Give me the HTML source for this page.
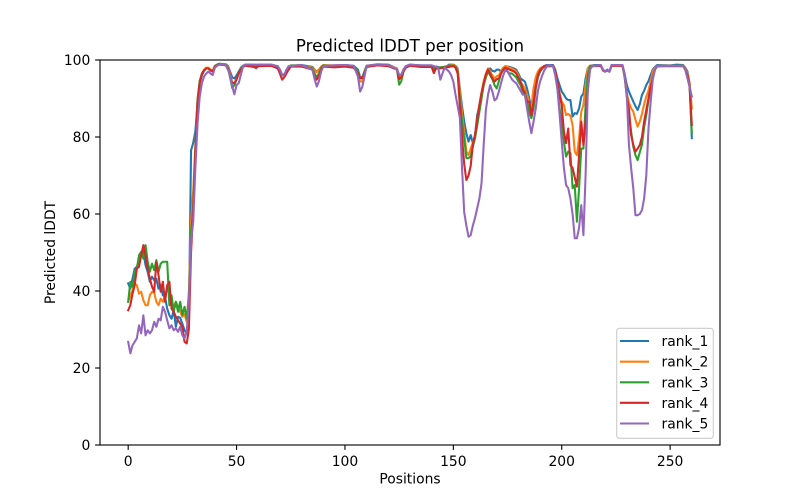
<!DOCTYPE html>
<html>
<head>
<meta charset="utf-8">
<style>
html,body{margin:0;padding:0;background:#fff;}
svg{display:block;}
text{font-family:"DejaVu Sans","Liberation Sans",sans-serif;fill:#000;}
.s{fill:none;stroke-width:2.08;stroke-linejoin:round;stroke-linecap:square;vector-effect:non-scaling-stroke;}
</style>
</head>
<body>
<svg width="800" height="500" viewBox="0 0 800 500" xmlns="http://www.w3.org/2000/svg">
<rect x="0" y="0" width="800" height="500" fill="#fff"/>
<defs><clipPath id="ax"><rect x="100" y="60" width="620" height="385"/></clipPath></defs>
<g clip-path="url(#ax)">
<g transform="matrix(2.1678,0,0,-3.85,128.18,445)">
<polyline class="s" stroke="#1f77b4" points="0,42 1,40.6 2,43.2 3,45.8 4,46.3 5,48 6,49.3 7,50.2 8,46.7 9,45 10,42.4 11,43.7 12,42.8 13,43.2 14,40.6 15,41.5 16,38.9 17,38.5 18,35.4 19,33.7 20,32.8 21,35 22,30.7 23,33.3 24,33 25,31.5 26,29.8 27,29 28,32 29,76.5 30,78.5 31,81.5 32,89 33,94 34,96 35,97.2 36,97.8 37,97.8 38,97.3 39,97 40,98.5 41,98.8 42,99 45,98.9 46,98.5 47,97 48,95.5 49,95.2 50,96 51,97 52,98 53,98.5 54,98.8 58,98.8 59,98.5 60,98.8 66,98.8 68,98.4 69,98.2 70,97.5 71,96.2 72,96.2 73,97 74,97.8 75,98.5 80,98.7 85,98.2 86,97.5 87,97 88,97.5 89,98 90,98.5 95,98.6 100,98.7 104,98.5 106,97.5 107,95.5 108,95.5 109,97 110,98.5 115,98.9 120,98.8 124,97.8 125,95.8 126,96 127,97.5 128,98 130,98.8 135,98.6 140,98.6 141,97.8 142,98.3 144,98 146,98 148,98.8 150,98.8 151,98.5 152,97.8 153,92.6 154,88 155,84 156,81 157,78.8 158,80.5 159,78.4 160,80.5 161,85.7 162,88 163,90.9 164,93.5 165,96.1 166,97.5 167,97.8 168,97.2 169,97 170,97.5 171,97.5 172,97 173,98 174,98.4 176,98.2 178,97.8 179,97.5 180,96.5 181,95.2 182,94.8 183,94.4 184,92.6 185,90 186,87.4 187,92.6 188,94.5 189,96 190,97 191,97.8 192,98.3 193,98.7 196,98.7 197,97.5 198,95.2 199,93.5 200,91.8 201,91 202,90 203,89.6 204,89.6 205,85.3 206,86.2 207,86 208,87.4 209,90.5 210,91.3 211,95.2 212,97.8 213,98.5 215,98.7 218,98.7 219,97.5 220,97 221,97.5 222,97 223,98.7 228,98.7 229,96.5 230,93.5 231,91.8 232,90.5 233,89.2 234,88 235,87 236,88.5 237,90.9 238,92 239,93.5 240,94.5 241,96.1 242,97.5 243,98.2 244,98.7 250,98.6 253,98.8 256,98.7 257,98 258,97 259,94 260,79.7"/>
<polyline class="s" stroke="#ff7f0e" points="0,37.2 1,38.9 2,40.2 3,42 4,41.5 5,39.3 6,39.8 7,37.6 8,36.3 9,36.3 10,38.9 11,39.8 12,39.5 13,37.2 14,36.3 15,38 16,37.2 17,38.9 18,40.6 19,39.3 20,37.2 21,35.9 22,37.2 23,35.9 24,34.6 25,33.3 26,34 27,32 28,40 29,58 30,66 31,78 32,90 33,94.5 34,96.5 35,97.5 36,98 37,98 38,97.5 39,97.3 40,98.5 41,98.8 42,99 45,98.9 46,98.3 47,96.5 48,94 49,94 50,95 51,96.5 52,97.8 53,98.5 54,98.8 60,98.7 66,98.8 69,98.3 70,97.3 71,96 72,96 73,97 74,98 75,98.6 80,98.6 85,98 86,97.5 87,96.8 88,97.5 89,98.3 90,98.7 95,98.6 100,98.7 104,98.3 106,96.5 107,94.4 108,94.4 109,96.5 110,98.5 115,98.8 120,98.7 124,97.8 125,95.8 126,95.8 127,97.5 128,98.3 130,98.8 135,98.5 140,98.5 141,96.6 142,98 144,97.8 146,98.3 148,98.5 150,98.8 151,98.5 152,97.5 153,92 154,86 155,81.4 156,76.2 157,75.3 158,77 159,78.5 160,80.5 161,84.5 162,88.3 163,91.5 164,94.5 165,96.5 166,97.8 167,97 168,96 169,95.2 170,95.8 171,96 172,97 173,98 174,98.4 176,98 178,97.5 179,97 180,96 181,94.4 182,93.5 183,92.6 184,91 185,89 186,87 187,92.6 188,95.5 189,97 190,97.8 192,98.4 196,98.4 197,97 198,94 199,91.5 200,89.2 201,88.3 202,85.7 203,86 204,85.5 205,83.1 206,76.2 207,75.3 208,79.7 209,86.5 210,88.3 211,93.5 212,97.8 213,98.5 218,98.6 219,97.5 220,97 221,97.3 222,97 223,98.6 228,98.6 229,96 230,91.5 231,89 232,87.5 233,86.6 234,84.5 235,82.7 236,84 237,86 238,88.5 239,90.5 240,92 241,94.5 242,97 243,98 244,98.5 250,98.5 256,98.6 257,97.8 258,96.5 259,94 260,87.4"/>
<polyline class="s" stroke="#2ca02c" points="0,37.2 1,42.4 2,41.1 3,45 4,45.8 5,49.3 6,50.2 7,48.4 8,51.9 9,47.6 10,45 11,47.1 12,45.4 13,48 14,45 15,47.1 16,47.6 17,47.6 18,47.6 19,36.3 20,38.9 21,34.6 22,37.2 23,34.6 24,37.2 25,33.7 26,35.9 27,32.8 28,38 29,55 30,62 31,77 32,89.5 33,94.5 34,96.5 35,97.3 36,97.8 37,97.8 38,97.3 39,97 40,98.3 41,98.8 42,99 45,98.8 46,98 47,95.5 48,92.7 49,93.5 50,95 51,96.5 52,97.8 53,98.5 54,98.8 60,98.7 66,98.7 69,98.2 70,97 71,96 72,96.2 73,97 74,98 75,98.6 80,98.6 85,97.8 86,96.5 87,95.5 88,96.5 89,98 90,98.6 95,98.5 100,98.6 104,98.3 106,97 107,95.3 108,95.3 109,97 110,98.5 115,98.8 120,98.7 124,97.5 125,93.6 126,94.5 127,97 128,98 130,98.8 135,98.5 140,98.5 141,97.5 142,98 146,98.2 150,98.6 151,98.3 152,97 153,90 154,84 155,79.7 156,74.5 157,74.5 158,75 159,77.5 160,79.7 161,83 162,86.5 163,90 164,93.5 165,95.5 166,97 167,96 168,95 169,93.5 170,92.6 171,94.5 172,96.5 173,97.5 174,97.8 175,97 176,96.5 177,96.5 178,96 179,95.5 180,94.4 181,93.5 182,91.8 183,91.8 184,89 185,86.5 186,84.9 187,87.5 188,92.6 189,95.5 190,97 191,97.8 192,98.4 196,98.4 197,96.5 198,92.5 199,87.5 200,84 201,78.8 202,74.9 203,76.2 204,75.8 205,66.7 206,67.5 207,58 208,66.7 209,77 210,77 211,88.3 212,96 213,98.4 218,98.6 219,97.3 220,97 221,97.3 222,97 223,98.6 228,98.6 229,95.5 230,91 231,86 232,81.4 233,77.5 234,75.3 235,74 236,76 237,78 238,82.5 239,85.7 240,89.5 241,92.5 242,95.5 243,97.5 244,98.4 250,98.5 256,98.6 257,97.5 258,96 259,93 260,81"/>
<polyline class="s" stroke="#d62728" points="0,35 1,36.3 2,39.3 3,41.5 4,45.8 5,46.3 6,49.3 7,51.9 8,49.3 9,45.8 10,43.2 11,41.1 12,39.8 13,47.6 14,44.1 15,39.8 16,42.4 17,37.2 18,41.5 19,42.4 20,35.4 21,34.6 22,33.3 23,32.4 24,31.5 25,30.7 26,26.8 27,26.4 28,30 29,50 30,61 31,76 32,89 33,94 34,96.3 35,97.3 36,97.8 37,97.8 38,97.3 39,97 40,98.3 41,98.6 42,98.8 45,98.6 46,97.8 47,96 48,94 49,94 50,95 51,96.5 52,97.5 53,98.2 54,98.5 58,98.2 59,97.9 60,98.4 66,98.5 69,97.8 70,96.5 71,94.9 72,95.5 73,96.5 74,97.5 75,98.3 80,98.3 85,97.5 86,95.5 87,94.9 88,96 89,97.5 90,98.3 95,98.1 100,98.3 104,98 106,96.5 107,95.3 108,95.3 109,96.5 110,98.2 115,98.6 120,98.4 124,97.5 125,95 126,95.5 127,97 128,98 130,98.5 135,98.2 140,98.2 141,96.6 142,97.8 146,98 150,98.4 151,98 152,96.5 153,88 154,80 155,73 156,68.8 157,70 158,72.5 159,78 160,80.5 161,84.5 162,88.3 163,91.5 164,94 165,96.2 166,97.5 167,96.5 168,95.2 169,94.4 170,95 171,95.2 172,96.5 173,97.5 174,98 176,97.5 178,97 179,96.5 180,95.5 181,94.4 182,92.6 183,91 184,89.2 185,89.2 186,85.7 187,89 188,93 189,96 190,97.3 191,98 192,98.5 196,98.5 197,97 198,94.4 199,91 200,88.3 201,81.4 202,78.4 203,82.2 204,72.7 205,72 206,69.5 207,67.1 208,75.3 209,84 210,77.9 211,84 212,92 213,97.5 214,98.4 218,98.5 219,97.3 220,97 221,97.3 222,97 223,98.5 228,98.5 229,96 230,90.5 231,87.4 232,80.5 233,78 234,76.2 235,77 236,77.9 237,80 238,84 239,87 240,90 241,93 242,95.2 243,97.5 244,98.4 250,98.4 256,98.4 257,97.5 258,96 259,93 260,83.1"/>
<polyline class="s" stroke="#9467bd" points="0,26.8 1,23.8 2,25.9 3,26.8 4,27.7 5,31.1 6,29 7,33.7 8,28.5 9,29.8 10,29 11,29.8 12,32 13,30.7 14,32.8 15,32.4 16,35.9 17,34.6 18,32.4 19,30.3 20,31.1 21,29.8 22,30.3 23,29.4 24,30.7 25,28.5 26,27.7 27,29.4 28,37 29,53 30,58 31,72 32,83.5 33,90.5 34,94 35,95.7 36,96.5 37,97 38,96.5 39,96.1 40,98 41,98.5 42,98.8 45,98.7 46,97.5 47,96.2 48,93.1 49,91.1 50,93.5 51,94 52,96.2 53,98.3 54,98.8 60,98.8 66,98.8 69,98.4 70,97.5 71,96 72,96.2 73,97.5 74,98.4 80,98.7 85,97.5 86,95 87,93.1 88,94.5 89,97 90,98.3 91,98.5 95,98.6 100,98.7 104,98.5 106,95.7 107,91.8 108,93 109,95.7 110,98.5 115,98.8 120,98.7 124,97.5 125,96.2 126,96.2 127,97.5 128,98.4 130,98.8 135,98.6 140,98.6 143,98 144,94.9 145,96.5 146,98 147,97.5 148,97 149,96 150,94.4 151,91 152,88 153,85 154,72 155,60.5 156,57 157,54.1 158,54.5 159,57 160,59 161,61.5 162,64 163,68 164,78 165,87 166,91 167,93.5 168,91.8 169,89.5 170,90 171,91.8 172,94 173,96 174,97.4 175,97 176,96 177,95 178,94.4 179,94 180,93 181,92 182,91 183,90.9 184,87.4 185,84 186,81 187,84 188,87.4 189,92 190,94.4 191,96 192,97.4 193,98.2 194,98.7 196,98.4 197,96 198,92.6 199,86 200,78.8 201,72 202,67.5 203,66.7 204,64 205,60 206,53.7 207,53.7 208,56.4 209,62.3 210,54.5 211,70 212,92 213,97.5 214,98.4 218,98.7 219,97.5 220,97 221,97.3 222,97 223,98.7 228,98.7 229,96.1 230,91 231,78 232,72 233,66.7 234,59.7 235,59.7 236,60 237,61 238,64 239,70 240,82 241,89 242,95 243,97.5 244,98.4 250,98.5 256,98.5 257,97.4 258,95.2 259,93 260,90.5"/>
</g>
</g>
<!-- spines -->
<rect x="100" y="60" width="620" height="385" fill="none" stroke="#000" stroke-width="1.11"/>
<!-- y ticks -->
<g stroke="#000" stroke-width="1.11">
<line x1="95.1" y1="445" x2="100" y2="445"/>
<line x1="95.1" y1="368" x2="100" y2="368"/>
<line x1="95.1" y1="291" x2="100" y2="291"/>
<line x1="95.1" y1="214" x2="100" y2="214"/>
<line x1="95.1" y1="137" x2="100" y2="137"/>
<line x1="95.1" y1="60" x2="100" y2="60"/>
<line x1="128.18" y1="445" x2="128.18" y2="449.9"/>
<line x1="236.57" y1="445" x2="236.57" y2="449.9"/>
<line x1="344.96" y1="445" x2="344.96" y2="449.9"/>
<line x1="453.35" y1="445" x2="453.35" y2="449.9"/>
<line x1="561.74" y1="445" x2="561.74" y2="449.9"/>
<line x1="670.13" y1="445" x2="670.13" y2="449.9"/>
</g>
<g font-size="13.89" text-anchor="end">
<text x="90.3" y="450">0</text>
<text x="90.3" y="373">20</text>
<text x="90.3" y="296">40</text>
<text x="90.3" y="219">60</text>
<text x="90.3" y="142">80</text>
<text x="90.3" y="65">100</text>
</g>
<g font-size="13.89" text-anchor="middle">
<text x="128.18" y="466">0</text>
<text x="236.57" y="466">50</text>
<text x="344.96" y="466">100</text>
<text x="453.35" y="466">150</text>
<text x="561.74" y="466">200</text>
<text x="670.13" y="466">250</text>
<text x="410" y="483.5">Positions</text>
<text transform="translate(55,252.5) rotate(-90)">Predicted lDDT</text>
</g>
<text x="410" y="51.7" font-size="16.67" text-anchor="middle">Predicted lDDT per position</text>
<!-- legend -->
<rect x="616.7" y="328.3" width="96.6" height="110" rx="2.8" ry="2.8" fill="#fff" fill-opacity="0.8" stroke="#cccccc" stroke-width="1.11"/>
<g stroke-width="2.08" stroke-linecap="square">
<line x1="621" y1="341" x2="648" y2="341" stroke="#1f77b4"/>
<line x1="621" y1="361.7" x2="648" y2="361.7" stroke="#ff7f0e"/>
<line x1="621" y1="382.3" x2="648" y2="382.3" stroke="#2ca02c"/>
<line x1="621" y1="402.8" x2="648" y2="402.8" stroke="#d62728"/>
<line x1="621" y1="423.5" x2="648" y2="423.5" stroke="#9467bd"/>
</g>
<g font-size="13.89">
<text x="661.5" y="346">rank_1</text>
<text x="661.5" y="366.7">rank_2</text>
<text x="661.5" y="387.3">rank_3</text>
<text x="661.5" y="407.8">rank_4</text>
<text x="661.5" y="428.5">rank_5</text>
</g>
</svg>
</body>
</html>
